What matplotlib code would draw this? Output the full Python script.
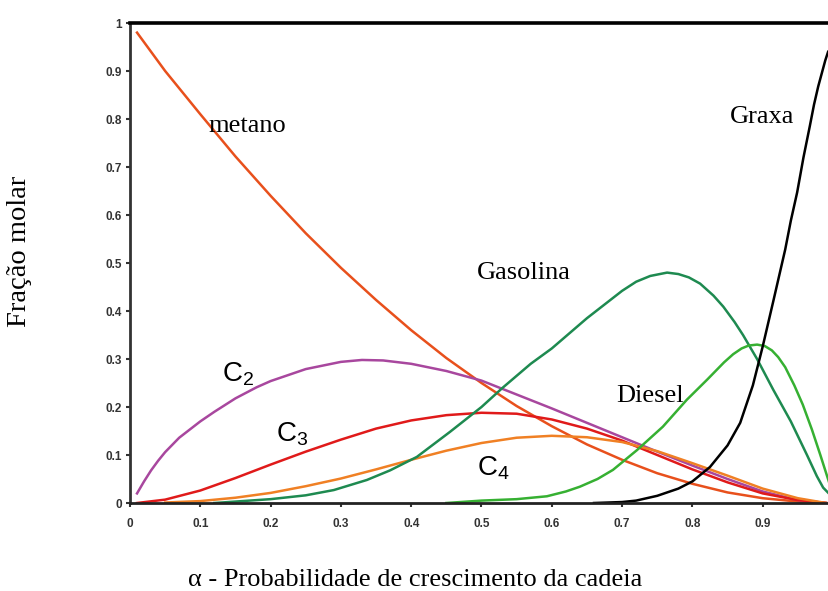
import matplotlib
matplotlib.use('Agg')
import matplotlib.pyplot as plt

# curves read as (alpha, fraction) pairs
metano_x = [0.01, 0.05, 0.10, 0.15, 0.20, 0.25, 0.30, 0.35, 0.40, 0.45, 0.50,
            0.55, 0.60, 0.65, 0.70, 0.75, 0.80, 0.85, 0.90, 0.95, 0.99]
metano_y = [0.98, 0.90, 0.81, 0.722, 0.64, 0.562, 0.49, 0.423, 0.36, 0.302, 0.25,
            0.202, 0.16, 0.122, 0.09, 0.062, 0.04, 0.022, 0.01, 0.003, 0.0]

c2_x = [0.01, 0.02, 0.03, 0.04, 0.05, 0.07, 0.10, 0.12, 0.15, 0.18, 0.20, 0.25,
        0.30, 0.33, 0.36, 0.40, 0.45, 0.50, 0.55, 0.60, 0.65, 0.70, 0.75, 0.80,
        0.85, 0.90, 0.95, 0.99]
c2_y = [0.02, 0.045, 0.068, 0.088, 0.106, 0.136, 0.17, 0.19, 0.218, 0.241, 0.254, 0.279,
        0.294, 0.298, 0.297, 0.29, 0.275, 0.255, 0.226, 0.197, 0.167, 0.137, 0.107, 0.078,
        0.05, 0.024, 0.006, 0.0]

c3_x = [0.01, 0.05, 0.10, 0.15, 0.20, 0.25, 0.30, 0.35, 0.40, 0.45, 0.50,
        0.55, 0.60, 0.65, 0.70, 0.75, 0.80, 0.85, 0.90, 0.95, 0.99]
c3_y = [0.0, 0.007, 0.026, 0.052, 0.08, 0.107, 0.132, 0.155, 0.172, 0.183, 0.188,
        0.186, 0.174, 0.155, 0.13, 0.10, 0.07, 0.043, 0.02, 0.006, 0.0]

c4_x = [0.05, 0.10, 0.15, 0.20, 0.25, 0.30, 0.35, 0.40, 0.45, 0.50,
        0.55, 0.60, 0.65, 0.70, 0.75, 0.80, 0.85, 0.90, 0.95, 0.99]
c4_y = [0.001, 0.004, 0.011, 0.021, 0.035, 0.051, 0.07, 0.09, 0.109, 0.125,
        0.136, 0.14, 0.137, 0.127, 0.108, 0.083, 0.057, 0.03, 0.01, 0.0]

gasolina_x = [0.12, 0.20, 0.25, 0.29, 0.337, 0.37, 0.408, 0.455, 0.50, 0.53, 0.57,
              0.60, 0.65, 0.70, 0.72, 0.74, 0.764, 0.78, 0.795, 0.811, 0.83, 0.844,
              0.86, 0.872, 0.892, 0.915, 0.94, 0.963, 0.977, 0.986, 0.994]
gasolina_y = [0.0, 0.008, 0.016, 0.027, 0.048, 0.068, 0.096, 0.148, 0.20, 0.24, 0.29,
              0.322, 0.385, 0.442, 0.461, 0.473, 0.48, 0.477, 0.47, 0.457, 0.432, 0.409,
              0.377, 0.35, 0.30, 0.236, 0.17, 0.10, 0.056, 0.032, 0.02]

diesel_x = [0.45, 0.50, 0.55, 0.593, 0.62, 0.64, 0.665, 0.687, 0.721, 0.758, 0.792,
            0.821, 0.845, 0.858, 0.87, 0.88, 0.892, 0.903, 0.913, 0.922, 0.932,
            0.945, 0.957, 0.97, 0.982, 0.994]
diesel_y = [0.0, 0.005, 0.008, 0.014, 0.024, 0.034, 0.05, 0.069, 0.11, 0.159, 0.215,
            0.257, 0.293, 0.31, 0.322, 0.328, 0.33, 0.327, 0.318, 0.304, 0.283,
            0.245, 0.205, 0.153, 0.1, 0.045]

graxa_x = [0.66, 0.70, 0.72, 0.75, 0.78, 0.80, 0.825, 0.85, 0.868, 0.886, 0.90,
           0.915, 0.932, 0.94, 0.949, 0.958, 0.967, 0.973, 0.979, 0.984, 0.989, 0.993]
graxa_y = [0.0, 0.002, 0.005, 0.015, 0.03, 0.045, 0.075, 0.12, 0.167, 0.245, 0.326,
           0.42, 0.528, 0.588, 0.647, 0.72, 0.785, 0.83, 0.868, 0.895, 0.922, 0.94]

xticks = [0.0, 0.1, 0.2, 0.3, 0.4, 0.5, 0.6, 0.7, 0.8, 0.9]
xtick_labels = ['0', '0.1', '0.2', '0.3', '0.4', '0.5', '0.6', '0.7', '0.8', '0.9']
yticks = [0.0, 0.1, 0.2, 0.3, 0.4, 0.5, 0.6, 0.7, 0.8, 0.9, 1.0]
ytick_labels = ['0', '0.1', '0.2', '0.3', '0.4', '0.5', '0.6', '0.7', '0.8', '0.9', '1']

serif = 'Liberation Serif'
sans = 'Liberation Sans'

fig = plt.figure(figsize=(8.29, 5.91), dpi=100)
ax = fig.add_axes([130 / 829, 88 / 591, 699 / 829, 480 / 591])

lw = 1.8
ax.plot(metano_x, metano_y, color='#e8501c', lw=lw)
ax.plot(c2_x, c2_y, color='#a8479e', lw=lw)
ax.plot(c3_x, c3_y, color='#e01a1a', lw=lw)
ax.plot(c4_x, c4_y, color='#f08024', lw=lw)
ax.plot(gasolina_x, gasolina_y, color='#1e8a50', lw=lw)
ax.plot(diesel_x, diesel_y, color='#36b032', lw=lw)
ax.plot(graxa_x, graxa_y, color='black', lw=lw)

ax.set_xlim(0, 699 / 703)
ax.set_ylim(0, 1)
ax.set_xticks(xticks)
ax.set_xticklabels(xtick_labels)
ax.set_yticks(yticks)
ax.set_yticklabels(ytick_labels)
ax.tick_params(length=3, width=1.5, labelsize=8.5, colors='#333333')
ax.tick_params(axis='x', pad=8)
ax.tick_params(axis='y', pad=3)
for lab in ax.get_xticklabels() + ax.get_yticklabels():
    lab.set_fontweight('bold')
    lab.set_family(sans)

ax.spines['right'].set_visible(False)
ax.spines['top'].set_linewidth(2.6)
ax.spines['top'].set_color('black')
ax.spines['left'].set_linewidth(2.0)
ax.spines['left'].set_color('#333333')
ax.spines['bottom'].set_linewidth(2.0)
ax.spines['bottom'].set_color('#222222')

# curve names
ax.text(0.111, 0.785, 'metano', family=serif, fontsize=19, va='center')
ax.text(0.853, 0.805, 'Graxa', family=serif, fontsize=19, va='center')
ax.text(0.494, 0.48, 'Gasolina', family=serif, fontsize=19, va='center')
ax.text(0.691, 0.222, 'Diesel', family=serif, fontsize=19, va='center')
ax.text(0.131, 0.268, r'$\mathregular{C_2}$', family=sans, fontsize=20, va='center')
ax.text(0.208, 0.143, r'$\mathregular{C_3}$', family=sans, fontsize=20, va='center')
ax.text(0.494, 0.072, r'$\mathregular{C_4}$', family=sans, fontsize=20, va='center')

fig.text(415 / 829, 5 / 591, 'α - Probabilidade de crescimento da cadeia',
         family=serif, fontsize=19, ha='center', va='baseline')
fig.text(20 / 829, 1 - 251 / 591, 'Fração molar', family=serif, fontsize=20.5,
         rotation=90, ha='center', va='center')

fig.savefig('out.png', dpi=100)
